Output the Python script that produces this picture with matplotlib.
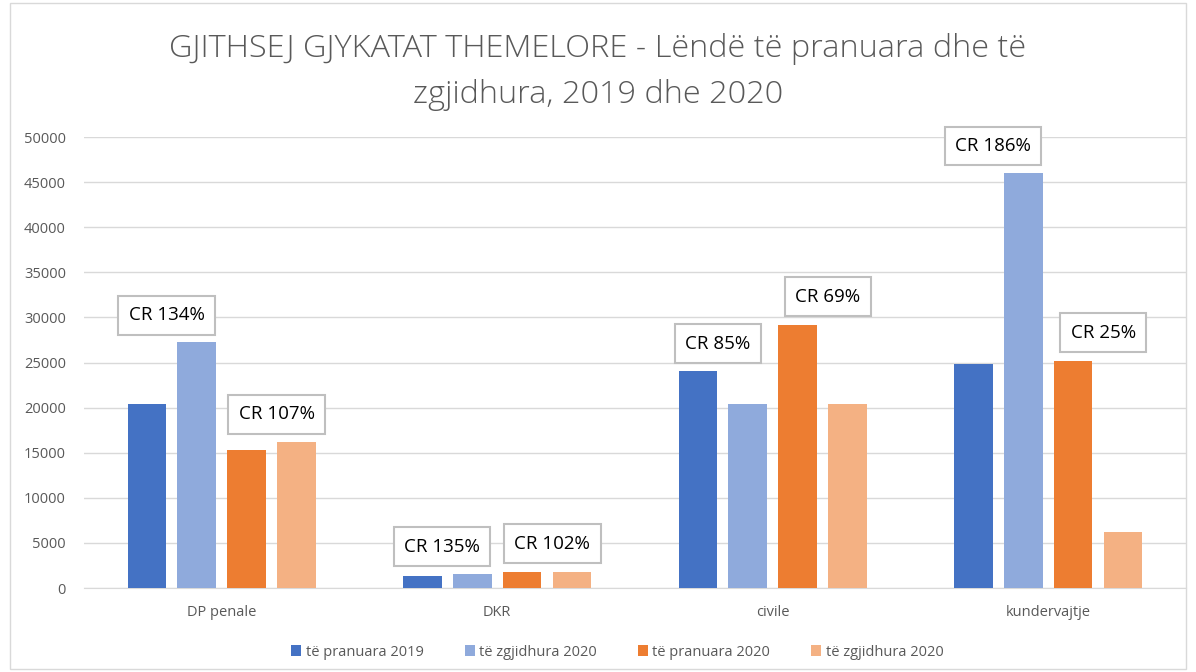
import numpy as np
import matplotlib.pyplot as plt
from matplotlib.patches import Rectangle

categories = ['DP penale', 'DKR', 'civile', 'kundervajtje']
series_names = ['të pranuara 2019', 'të zgjidhura 2020', 'të pranuara 2020', 'të zgjidhura 2020']
pranuara_2019 = [20400, 1360, 24100, 24800]
zgjidhura_2019 = [27240, 1580, 20400, 46000]
pranuara_2020 = [15280, 1800, 29200, 25200]
zgjidhura_2020 = [16160, 1800, 20400, 6200]
cr_2019 = ['CR 134%', 'CR 135%', 'CR 85%', 'CR 186%']
cr_2020 = ['CR 107%', 'CR 102%', 'CR 69%', 'CR 25%']

colors = ['#4472C4', '#8FAADC', '#ED7D31', '#F4B183']
plt.rcParams['font.family'] = ['Open Sans', 'DejaVu Sans']

fig = plt.figure(figsize=(11.96, 6.72), dpi=100)
ax = fig.add_axes([0.0702, 0.125, 0.9214, 0.671])

x = np.arange(len(categories))
w = 0.14
step = 0.181
all_series = [pranuara_2019, zgjidhura_2019, pranuara_2020, zgjidhura_2020]
for i, vals in enumerate(all_series):
    ax.bar(x + (i - 1.5) * step, vals, w, color=colors[i], label=series_names[i], zorder=3)

# kutite me CR
box = dict(boxstyle='square,pad=0.55', fc='white', ec='#BFBFBF', lw=1.5)
for j in range(len(categories)):
    y1 = max(pranuara_2019[j], zgjidhura_2019[j]) + 3000
    y2 = max(pranuara_2020[j], zgjidhura_2020[j]) + 3100
    ax.text(x[j] - 0.2, y1, cr_2019[j], ha='center', va='center', fontsize=13.5,
            color='black', bbox=box, zorder=5)
    ax.text(x[j] + 0.2, y2, cr_2020[j], ha='center', va='center', fontsize=13.5,
            color='black', bbox=box, zorder=5)

ax.set_xlim(-0.5, 3.5)
ax.set_ylim(0, 50000)
ax.set_yticks(np.arange(0, 50001, 5000))
ax.set_xticks(x)
ax.set_xticklabels(categories)
ax.tick_params(axis='both', length=0, labelsize=10.5, colors='#595959')
ax.tick_params(axis='y', pad=13)
ax.tick_params(axis='x', pad=12)
ax.grid(axis='y', color='#D9D9D9', lw=1, zorder=0)
for s in ['top', 'right', 'left']:
    ax.spines[s].set_visible(False)
ax.spines['bottom'].set_color('#D9D9D9')

fig.text(0.5, 1 - 72 / 672,
         'GJITHSEJ GJYKATAT THEMELORE - Lëndë të pranuara dhe të\nzgjidhura, 2019 dhe 2020',
         ha='center', va='center', fontsize=23.4, color='#595959', fontweight='light',
         linespacing=1.62)

ax.legend(loc='center', bbox_to_anchor=(0.484, -0.142), ncol=4, frameon=False,
          fontsize=10.5, handlelength=0.7, handleheight=0.7, handletextpad=0.3,
          columnspacing=2.8, labelcolor='#595959')

fig.patches.append(Rectangle((0.008, 0.005), 0.984, 0.99, transform=fig.transFigure,
                             fill=False, ec='#D9D9D9', lw=1))

fig.savefig('out.png', dpi=100)
